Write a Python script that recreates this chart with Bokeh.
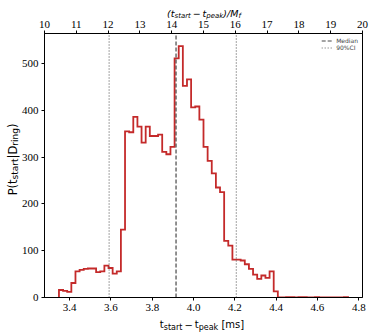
import numpy as np
from math import pi
from bokeh.plotting import figure
from bokeh.core.properties import value
from bokeh.models import Range1d, LinearAxis, FixedTicker, Legend, LegendItem, NumeralTickFormatter
from bokeh.embed import file_html
from bokeh.resources import INLINE

# ---- data ----
bin_start = 3.348
bin_width = 0.02
counts = [16, 14, 12, 31, 56, 59, 61, 62, 62, 54, 56, 68, 63, 51, 56, 145,
          355, 353, 386, 365, 331, 365, 345, 345, 348, 311, 306, 322,
          511, 537, 452, 466, 406, 408, 380, 322, 292, 265, 235, 225,
          121, 111, 81, 81, 79, 71, 61, 49, 40, 47, 42, 56, 13,
          0, 0, 1, 1, 0, 1, 1, 0, 0, 1, 0, 0, 0, 0, 0, 0, 1]
median = 3.915
ci90 = [3.591, 4.207]
x_ticks = [3.4, 3.6, 3.8, 4.0, 4.2, 4.4, 4.6, 4.8]
y_ticks = [0, 100, 200, 300, 400, 500]
top_ticks = [10, 11, 12, 13, 14, 15, 16, 17, 18, 19, 20]
x_lim = (3.278, 4.818)
y_lim = (0, 564)
top_lim = (10, 20)

RED = "#c42a2a"
TICK_FONT = "Liberation Serif"
LABEL_FONT = "DejaVu Sans"

p = figure(width=374, height=335, output_backend="svg", toolbar_location=None,
           x_range=Range1d(*x_lim), y_range=Range1d(*y_lim),
           min_border_left=44, min_border_right=12, min_border_top=33, min_border_bottom=38)
p.extra_x_ranges = {"top": Range1d(*top_lim)}
p.grid.visible = False
p.outline_line_color = "black"
p.outline_line_width = 1
p.background_fill_color = "white"

# histogram as a step outline
edges = bin_start + bin_width * np.arange(len(counts) + 1)
c = np.array(counts, dtype=float)
xs = np.concatenate([[edges[0]], np.repeat(edges[1:-1], 2), [edges[-1]]])
xs = np.concatenate([[edges[0]], xs, [edges[-1]]])
ys = np.concatenate([[0.0], np.repeat(c, 2), [0.0]])
p.line(xs, ys, line_color=RED, line_width=1.8, line_join="miter")

r_med = p.line([median, median], [0, 2000], line_color="#333333", line_width=1.2,
               line_dash="4 2", line_alpha=0.9)
r_ci = []
for v in ci90:
    r_ci.append(p.line([v, v], [0, 2000], line_color="#555555", line_width=1.2,
                       line_dash="1 2", line_alpha=0.9))

leg = Legend(items=[LegendItem(label="Median", renderers=[r_med]),
                    LegendItem(label="90%CI", renderers=[r_ci[0]])],
             location="top_right", label_text_font_size="6px", label_text_font=LABEL_FONT,
             glyph_width=12, glyph_height=5, label_height=5, label_standoff=3,
             spacing=0, padding=2, margin=4, border_line_color=None,
             background_fill_alpha=0.8)
p.add_layout(leg)

def style_axis(ax):
    ax.axis_line_color = "black"
    ax.major_tick_line_color = "black"
    ax.major_tick_out = 3
    ax.major_tick_in = 0
    ax.minor_tick_line_color = None
    ax.major_label_text_font = TICK_FONT
    ax.major_label_text_font_size = "11px"
    ax.major_label_text_color = "black"
    ax.major_label_standoff = 3

xa = p.xaxis[0]
xa.ticker = FixedTicker(ticks=x_ticks)
xa.formatter = NumeralTickFormatter(format="0.0")
style_axis(xa)
ya = p.yaxis[0]
ya.ticker = FixedTicker(ticks=y_ticks)
style_axis(ya)
ta = LinearAxis(x_range_name="top", ticker=FixedTicker(ticks=top_ticks))
style_axis(ta)
p.add_layout(ta, "above")

# ---- rich text labels with sub-scripts, anchored at frame bottom-left, pixel offsets ----
W = {'t': .392, 's': .521, 'a': .613, 'r': .411, 'p': .635, 'e': .615, 'k': .579,
     '\u2212': .838, ' ': .318, '[': .390, ']': .390, 'm': .974, '(': .390, ')': .390,
     '/': .337, 'M': .863, 'f': .352, 'P': .603, 'D': .770, '|': .337, 'i': .278,
     'n': .634, 'g': .635}

def tw(s, size):
    return sum(W.get(ch, 0.6) for ch in s) * size

def rich(pieces, cx, cy, main, sub, vertical=False, italic=False):
    """pieces: (text, kind) with kind 'm' main, 's' subscript, 'g' gap (text = em of main).
    cx, cy: pixel offsets of centre / baseline from the frame's bottom-left (y up)."""
    def adv(t, k):
        if k == "g":
            return t * main
        return tw(t, sub if k == "s" else main)
    total = sum(adv(t, k) for t, k in pieces)
    pos = -total / 2
    for t, k in pieces:
        if k != "g":
            size = sub if k == "s" else main
            dy = -0.26 * main if k == "s" else 0
            if vertical:
                xo, yo, ang = cx - dy, -(cy + pos), pi / 2
            else:
                xo, yo, ang = cx + pos, -(cy + dy), 0
            p.text(x=[x_lim[0]], y=[y_lim[0]], text=[t], x_offset=xo, y_offset=yo, angle=ang,
                   text_font=value(LABEL_FONT), text_font_size=f"{size:.1f}px",
                   text_font_style="italic" if italic else "normal",
                   text_align="left", text_baseline="alphabetic", text_color="black",
                   level="overlay")
        pos += adv(t, k)

MINUS = "\u2212"
# bottom axis title: t_start − t_peak [ms]
rich([("t", "m"), ("start", "s"), (0.2, "g"), (MINUS, "m"), (0.2, "g"), ("t", "m"),
      ("peak", "s"), (0.318, "g"), ("[ms]", "m")],
     157.5, -27, 10, 8)
# top axis title: (t_start − t_peak)/M_f
rich([("(t", "m"), ("start", "s"), (0.2, "g"), (MINUS, "m"), (0.2, "g"), ("t", "m"),
      ("peak", "s"), (")/M", "m"), ("f", "s")],
     159.5, 284, 9.5, 7, italic=True)
# left axis title: P(t_start|D_ring)
rich([("P(t", "m"), ("start", "s"), ("|D", "m"), ("ring", "s"), (")", "m")],
     -32, 138, 11.5, 9, vertical=True)

open("out.html", "w").write(file_html(p, INLINE))
